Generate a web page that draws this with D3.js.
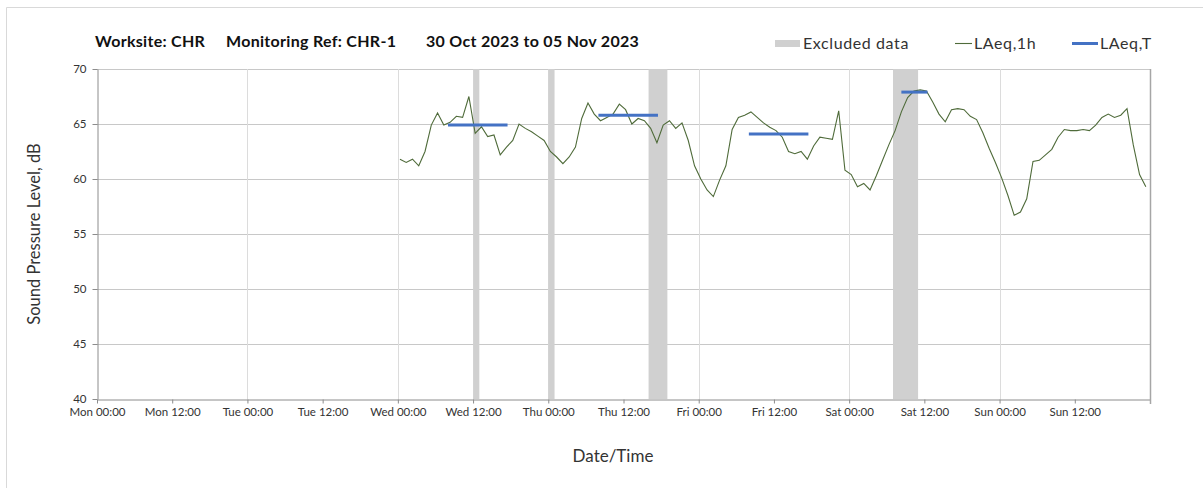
<!DOCTYPE html>
<html>
<head>
<meta charset="utf-8">
<script src="https://cdn.jsdelivr.net/npm/d3@7"></script>
<style>
  html, body { margin: 0; padding: 0; background: #fff; }
  svg { display: block; font-family: Lato, "Open Sans", sans-serif; }
</style>
</head>
<body>
<svg id="chart" width="1203" height="488"></svg>
<script>
// ---------- data ----------
const titleParts = ["Worksite: CHR", "Monitoring Ref: CHR-1", "30 Oct 2023 to 05 Nov 2023"];
const xTickLabels = ["Mon 00:00","Mon 12:00","Tue 00:00","Tue 12:00","Wed 00:00","Wed 12:00","Thu 00:00",
                     "Thu 12:00","Fri 00:00","Fri 12:00","Sat 00:00","Sat 12:00","Sun 00:00","Sun 12:00"];
const yTicks = [40, 45, 50, 55, 60, 65, 70];
const axisStart = "2023-10-30T00:00";
const axisEnd = "2023-11-06T00:00";
// hourly LAeq,1h values starting Wed 01 Nov 2023 00:20
const laeqStart = "2023-11-01T00:20";
const laeq1h = [
  61.8, 61.5, 61.8, 61.2, 62.5, 64.9, 66.0, 64.9, 65.15, 65.7, 65.6, 67.5,
  64.15, 64.75, 63.85, 64.0, 62.2, 62.9, 63.5, 65.0, 64.6, 64.3, 63.9, 63.5,
  62.5, 62.0, 61.4, 62.0, 62.9, 65.5, 66.9, 65.9, 65.3, 65.6, 65.9, 66.8,
  66.3, 65.0, 65.5, 65.3, 64.6, 63.3, 64.9, 65.3, 64.6, 65.1, 63.5, 61.2,
  60.0, 59.0, 58.4, 59.9, 61.2, 64.5, 65.6, 65.8, 66.1, 65.6, 65.1, 64.7,
  64.4, 63.8, 62.5, 62.3, 62.5, 61.8, 63.0, 63.8, 63.7, 63.6, 66.2, 60.8,
  60.4, 59.3, 59.6, 59.0, 60.3, 61.7, 63.1, 64.4, 66.1, 67.4, 68.0, 68.1,
  68.0, 67.0, 65.9, 65.2, 66.3, 66.4, 66.3, 65.7, 65.4, 64.2, 62.8, 61.5,
  60.1, 58.5, 56.7, 57.0, 58.2, 61.6, 61.7, 62.2, 62.7, 63.8, 64.5, 64.4,
  64.4, 64.5, 64.4, 64.9, 65.6, 65.9, 65.6, 65.8, 66.4, 63.1, 60.4, 59.3
];
const excludedStart = ["2023-11-01T12:00", "2023-11-02T00:00", "2023-11-02T16:00", "2023-11-04T07:00"];
const excludedEnd   = ["2023-11-01T13:00", "2023-11-02T01:00", "2023-11-02T19:00", "2023-11-04T11:00"];
const laeqTStart = ["2023-11-01T08:00", "2023-11-02T08:00", "2023-11-03T08:00", "2023-11-04T08:20"];
const laeqTEnd   = ["2023-11-01T17:30", "2023-11-02T17:30", "2023-11-03T17:30", "2023-11-04T12:30"];
const laeqTValue = [64.9, 65.8, 64.1, 67.9];
const legendLabels = ["Excluded data", "LAeq,1h", "LAeq,T"];

// ---------- setup ----------
const parse = d3.timeParse("%Y-%m-%dT%H:%M");
const svg = d3.select("#chart");
const pLeft = 97, pRight = 1150, pTop = 69, pBottom = 399;

const x = d3.scaleTime().domain([parse(axisStart), parse(axisEnd)]).range([pLeft, pRight]);
const y = d3.scaleLinear().domain([40, 70]).range([pBottom, pTop]);

const c0 = parse(laeqStart);
const lineData = laeq1h.map((v, i) => ({ t: d3.timeHour.offset(c0, i), v }));

// outer chart border
svg.append("path").attr("d", "M6.5,500 V7.5 H1210").attr("fill", "none").attr("stroke", "#d9d9d9");

// horizontal gridlines
svg.append("g").selectAll("line").data(yTicks.filter(d => d > 40)).join("line")
  .attr("x1", pLeft).attr("x2", pRight)
  .attr("y1", d => Math.round(y(d)) + 0.5).attr("y2", d => Math.round(y(d)) + 0.5)
  .attr("stroke", "#c8c8c8").attr("stroke-width", 1);

// vertical day gridlines
const days = d3.timeDay.range(d3.timeDay.offset(parse(axisStart), 1), parse(axisEnd));
svg.append("g").selectAll("line").data(days).join("line")
  .attr("x1", d => Math.round(x(d)) + 0.5).attr("x2", d => Math.round(x(d)) + 0.5)
  .attr("y1", pTop).attr("y2", pBottom)
  .attr("stroke", "#dcdcdc").attr("stroke-width", 1);

// excluded bands
svg.append("g").selectAll("rect").data(excludedStart.map((s, i) => [parse(s), parse(excludedEnd[i])])).join("rect")
  .attr("x", d => x(d[0])).attr("width", d => x(d[1]) - x(d[0]))
  .attr("y", pTop).attr("height", pBottom - pTop)
  .attr("fill", "#d0d0d0");

// axes
const xAxis = d3.axisBottom(x)
  .tickValues(d3.timeHour.every(12).range(parse(axisStart), parse(axisEnd)))
  .tickFormat((d, i) => xTickLabels[i])
  .tickSize(4).tickSizeOuter(0);
const gx = svg.append("g").attr("transform", `translate(0,${pBottom + 0.5})`).call(xAxis);
gx.select(".domain").attr("stroke", "#8c8c8c");
gx.selectAll(".tick line").attr("stroke", "#8c8c8c");
gx.selectAll(".tick text").attr("fill", "#333").attr("font-size", 11.5)
  .attr("font-family", "Lato, sans-serif").attr("dy", "0.95em").attr("y", 6);

const yAxis = d3.axisLeft(y).tickValues(yTicks).tickFormat(d3.format("d")).tickSize(5).tickSizeOuter(0);
const gy = svg.append("g").attr("transform", `translate(${pLeft + 0.5},0)`).call(yAxis);
gy.select(".domain").attr("stroke", "#8c8c8c");
gy.selectAll(".tick line").attr("stroke", "#8c8c8c");
gy.selectAll(".tick text").attr("fill", "#333").attr("font-size", 11.5)
  .attr("font-family", "Lato, sans-serif").attr("x", -11);

// right border of plot
svg.append("line").attr("x1", pRight + 0.5).attr("x2", pRight + 0.5).attr("y1", pTop).attr("y2", pBottom + 5)
  .attr("stroke", "#a6a6a6").attr("stroke-width", 1.5);

// LAeq,1h line
svg.append("path").datum(lineData)
  .attr("d", d3.line().x(d => x(d.t)).y(d => y(d.v)))
  .attr("fill", "none").attr("stroke", "#4f6b3a").attr("stroke-width", 1.1);

// LAeq,T segments
svg.append("g").selectAll("line").data(laeqTValue.map((v, i) => ({ a: parse(laeqTStart[i]), b: parse(laeqTEnd[i]), v }))).join("line")
  .attr("x1", d => x(d.a)).attr("x2", d => x(d.b))
  .attr("y1", d => y(d.v)).attr("y2", d => y(d.v))
  .attr("stroke", "#4472c4").attr("stroke-width", 3);

// title
const titleX = [95, 226, 426];
svg.append("g").selectAll("text").data(titleParts).join("text")
  .attr("x", (d, i) => titleX[i]).attr("y", 47)
  .attr("font-size", 16).attr("font-weight", "bold").attr("fill", "#111")
  .attr("letter-spacing", 0.3)
  .text(d => d);

// legend
const lg = svg.append("g").attr("font-size", 16).attr("letter-spacing", 0.6).attr("fill", "#333");
lg.append("rect").attr("x", 775).attr("y", 40).attr("width", 25).attr("height", 7).attr("fill", "#d0d0d0");
lg.append("text").attr("x", 803).attr("y", 49).text(legendLabels[0]);
lg.append("line").attr("x1", 955).attr("x2", 972).attr("y1", 43.5).attr("y2", 43.5).attr("stroke", "#4f6b3a").attr("stroke-width", 1.1);
lg.append("text").attr("x", 974).attr("y", 49).text(legendLabels[1]);
lg.append("line").attr("x1", 1072).attr("x2", 1098).attr("y1", 43.5).attr("y2", 43.5).attr("stroke", "#4472c4").attr("stroke-width", 3);
lg.append("text").attr("x", 1100).attr("y", 49).text(legendLabels[2]);

// axis titles
svg.append("text").attr("transform", "translate(40,234) rotate(-90)").attr("text-anchor", "middle")
  .attr("font-size", 16.5).attr("fill", "#333").text("Sound Pressure Level, dB");
svg.append("text").attr("x", 613).attr("y", 462).attr("text-anchor", "middle")
  .attr("font-size", 17).attr("fill", "#333").text("Date/Time");
</script>
</body>
</html>
